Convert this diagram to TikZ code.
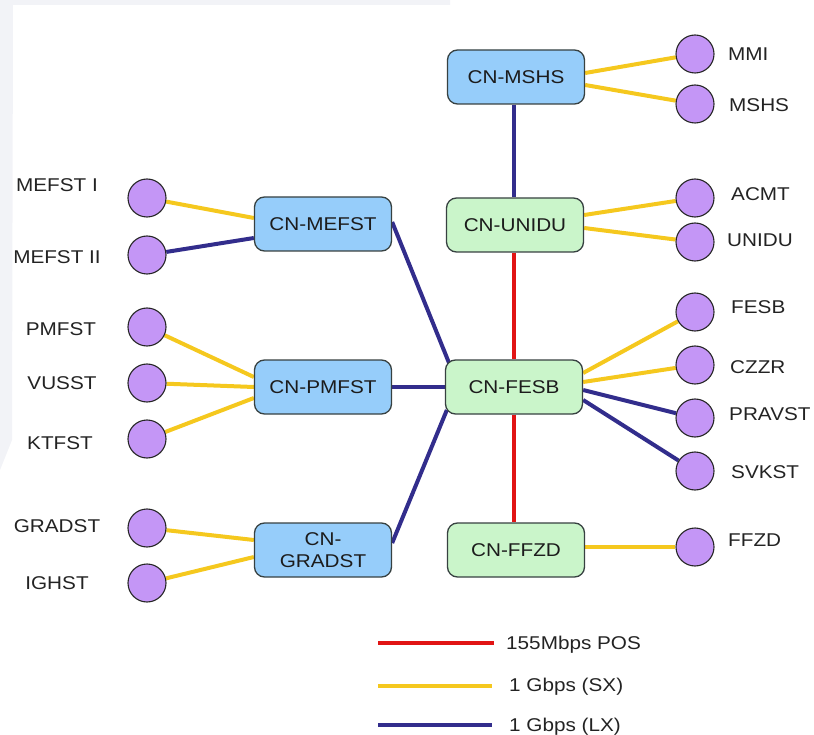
\documentclass[tikz,border=0pt]{standalone}
\usepackage{fontspec}
\setmainfont{Liberation Sans}[FakeStretch=1.12]
\usetikzlibrary{backgrounds}
\definecolor{boxblue}{RGB}{150,205,250}
\definecolor{boxgreen}{RGB}{202,245,202}
\definecolor{boxline}{RGB}{55,65,65}
\definecolor{lav}{RGB}{196,150,246}
\definecolor{lnyellow}{RGB}{245,200,30}
\definecolor{lnblue}{RGB}{50,45,140}
\definecolor{lnred}{RGB}{225,20,20}
\definecolor{bgg}{RGB}{242,243,247}
\definecolor{txt}{RGB}{35,35,35}
\tikzset{
  cnbox/.style={draw=boxline, line width=1.3pt, rounded corners=10pt,
    minimum width=137pt, minimum height=54pt, inner sep=2pt,
    font=\fontsize{18.5}{22}\selectfont, text=txt!80!black, align=center},
  bluebox/.style={cnbox, fill=boxblue},
  greenbox/.style={cnbox, fill=boxgreen},
  site/.style={circle, draw=black!85, line width=1.1pt, fill=lav, minimum size=38pt, inner sep=0pt},
  lbl/.style={inner sep=0pt, font=\fontsize{18.5}{20}\selectfont, text=txt},
  sxline/.style={draw=lnyellow, line width=4pt},
  lxline/.style={draw=lnblue, line width=4pt},
  posline/.style={draw=lnred, line width=3.6pt},
}
\begin{document}
\begin{tikzpicture}[x=1pt,y=-1pt]
\useasboundingbox (0,0) rectangle (814,735);
\fill[bgg] (0,0) -- (450,0) -- (450,5) -- (13,5) -- (12,440) -- (0,470) -- cycle;

% core boxes
\node[bluebox]  (mshs)  at (516,77)  {CN-MSHS};
\node[greenbox] (unidu) at (515,225) {CN-UNIDU};
\node[greenbox] (fesb)  at (514,387) {CN-FESB};
\node[greenbox] (ffzd)  at (516,550) {CN-FFZD};
\node[bluebox]  (mefst) at (323,224) {CN-MEFST};
\node[bluebox]  (pmfst) at (323,387) {CN-PMFST};
\node[bluebox]  (gradst) at (323,550) {CN-\\GRADST};

% right sites
\node[site] (cmmi)   at (695,54)  {};
\node[site] (cmshs)  at (695,104) {};
\node[site] (cacmt)  at (695,198) {};
\node[site] (cunidu) at (695,242) {};
\node[site] (cfesb)  at (695,312) {};
\node[site] (cczzr)  at (695,365) {};
\node[site] (cpravst) at (695,418) {};
\node[site] (csvkst) at (695,471) {};
\node[site] (cffzd)  at (695,547) {};
% left sites
\node[site] (cmefsta) at (147,198) {};
\node[site] (cmefstb) at (147,255) {};
\node[site] (cpmfst)  at (147,327) {};
\node[site] (cvusst)  at (147,383) {};
\node[site] (cktfst)  at (147,439) {};
\node[site] (cgradst) at (147,528) {};
\node[site] (cighst)  at (147,583) {};

% right labels
\node[lbl, anchor=base west] (lmmi)   at (728,61)  {MMI};
\node[lbl, anchor=base west] (lmshs)  at (729,112) {MSHS};
\node[lbl, anchor=base west] (lacmt)  at (731,201) {ACMT};
\node[lbl, anchor=base west] (lunidu) at (727,247) {UNIDU};
\node[lbl, anchor=base west] (lfesb)  at (731,314) {FESB};
\node[lbl, anchor=base west] (lczzr)  at (730,373) {CZZR};
\node[lbl, anchor=base west] (lpravst) at (729,420) {PRAVST};
\node[lbl, anchor=base west] (lsvkst) at (731,478) {SVKST};
\node[lbl, anchor=base west] (lffzd)  at (728,546) {FFZD};
% left labels
\node[lbl, anchor=base] (lmefsta) at (57,192) {MEFST I};
\node[lbl, anchor=base] (lmefstb) at (57,264) {MEFST II};
\node[lbl, anchor=base] (lpmfst)  at (61,335) {PMFST};
\node[lbl, anchor=base] (lvusst)  at (62,389) {VUSST};
\node[lbl, anchor=base] (lktfst)  at (60,449) {KTFST};
\node[lbl, anchor=base] (lgradst) at (57,532) {GRADST};
\node[lbl, anchor=base] (lighst)  at (57,589) {IGHST};

% legend
\coordinate (r1) at (378,643); \coordinate (r2) at (494,643);
\coordinate (y1) at (378,686); \coordinate (y2) at (492,686);
\coordinate (b1) at (378,725); \coordinate (b2) at (492,725);
\node[lbl, anchor=base west] (tpos) at (506,649) {155Mbps POS};
\node[lbl, anchor=base west] (tsx)  at (509,691) {1 Gbps (SX)};
\node[lbl, anchor=base west] (tlx)  at (509,731) {1 Gbps (LX)};

\begin{pgfonlayer}{background}
  % backbone
  \draw[lxline]  ([xshift=-2pt]mshs.south) -- ([xshift=-1pt]unidu.north);
  \draw[posline] ([xshift=-1pt]unidu.south) -- (fesb.north);
  \draw[posline] (fesb.south) -- ([xshift=-2pt]ffzd.north);
  \draw[lxline]  ([yshift=2pt]mefst.east) -- ([xshift=5pt,yshift=22pt]fesb.west);
  \draw[lxline]  (pmfst.east) -- (fesb.west);
  \draw[lxline]  ([yshift=7pt]gradst.east) -- ([xshift=2pt,yshift=-23pt]fesb.west);
  % right access
  \draw[sxline] ([yshift=4pt]mshs.east) -- (cmmi);
  \draw[sxline] ([yshift=-8pt]mshs.east) -- (cmshs);
  \draw[sxline] ([yshift=10pt]unidu.east) -- (cacmt);
  \draw[sxline] ([yshift=-3pt]unidu.east) -- (cunidu);
  \draw[sxline] ([yshift=14pt]fesb.east) -- (cfesb);
  \draw[sxline] ([yshift=5pt]fesb.east) -- (cczzr);
  \draw[lxline] ([yshift=-3pt]fesb.east) -- (cpravst);
  \draw[lxline] ([yshift=-13pt]fesb.east) -- (csvkst);
  \draw[sxline] ([yshift=3pt]ffzd.east) -- (cffzd);
  % left access
  \draw[sxline] ([yshift=6pt]mefst.west) -- (cmefsta);
  \draw[lxline] ([yshift=-14pt]mefst.west) -- (cmefstb);
  \draw[sxline] ([yshift=10pt]pmfst.west) -- (cpmfst);
  \draw[sxline] (pmfst.west) -- (cvusst);
  \draw[sxline] ([yshift=-11pt]pmfst.west) -- (cktfst);
  \draw[sxline] ([yshift=10pt]gradst.west) -- (cgradst);
  \draw[sxline] ([yshift=-7pt]gradst.west) -- (cighst);
\end{pgfonlayer}
% legend lines
\draw[posline] (r1) -- (r2);
\draw[sxline]  (y1) -- (y2);
\draw[lxline]  (b1) -- (b2);
\end{tikzpicture}
\end{document}
